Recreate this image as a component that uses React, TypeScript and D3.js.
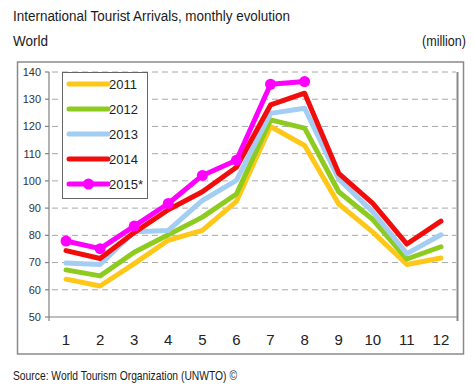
import React from "react";
import * as d3 from "d3";

const months = ["1", "2", "3", "4", "5", "6", "7", "8", "9", "10", "11", "12"];
const yTicks = [50, 60, 70, 80, 90, 100, 110, 120, 130, 140];

const seriesNames = ["2011", "2012", "2013", "2014", "2015*"];
const seriesColors = ["#FFC819", "#8DCB1E", "#A3CDF2", "#F20D0D", "#FF00FF"];

const v2011 = [63.9, 61.4, 69.6, 78.2, 81.8, 92.5, 120.0, 113.0, 91.5, 81.2, 69.3, 71.7];
const v2012 = [67.3, 65.1, 73.8, 80.2, 86.7, 95.2, 122.4, 119.4, 96.0, 85.8, 71.3, 75.8];
const v2013 = [69.8, 69.3, 81.3, 81.8, 92.8, 100.2, 124.8, 126.7, 100.7, 88.6, 73.3, 80.2];
const v2014 = [74.4, 71.5, 81.0, 89.4, 96.0, 105.0, 127.9, 132.2, 102.8, 91.7, 76.8, 85.2];
const v2015 = [77.9, 75.1, 83.4, 91.7, 102.0, 107.6, 135.5, 136.5];

const seriesValues = [v2011, v2012, v2013, v2014, v2015];

const W = 474;
const H = 392;
const plotLeft = 49;
const plotRight = 458;
const plotTop = 72;
const plotBottom = 317;

const font = "'Liberation Sans Narrow', 'Liberation Sans', Arial, sans-serif";

export default function App() {
  const x = d3.scaleBand<string>().domain(months).range([plotLeft, plotRight]).padding(0);
  const y = d3.scaleLinear().domain([50, 140]).range([plotBottom, plotTop]);
  const cx = (i: number) => (x(months[i]) as number) + x.bandwidth() / 2;

  const line = d3
    .line<number>()
    .x((_, i) => cx(i))
    .y((d) => y(d));

  const legendX = 62;
  const legendY = 72;
  const legendRow = 25;

  return (
    <div style={{ position: "fixed", left: 0, top: 0 }}>
      <svg width={W} height={H} style={{ display: "block", background: "#fff" }} fontFamily={font}>
        {/* titles */}
        <text x={13} y={21} fontSize={14} fill="#1a1a1a" textLength={277} lengthAdjust="spacingAndGlyphs">
          International Tourist Arrivals, monthly evolution
        </text>
        <text x={13} y={46} fontSize={14} fill="#1a1a1a" textLength={35} lengthAdjust="spacingAndGlyphs">
          World
        </text>
        <text x={422} y={46} fontSize={14} fill="#1a1a1a" textLength={44} lengthAdjust="spacingAndGlyphs">
          (million)
        </text>

        {/* outer frame */}
        <rect x={17.5} y={62} width={446} height={292} fill="none" stroke="#8a8a8a" strokeWidth={1.5} />

        {/* gridlines */}
        {yTicks.slice(1).map((t) => (
          <line
            key={"g" + t}
            x1={plotLeft + 3}
            x2={plotRight - 2}
            y1={y(t)}
            y2={y(t)}
            stroke="#a8a8a8"
            strokeWidth={1}
            strokeDasharray="6 4"
          />
        ))}

        {/* right plot border */}
        <line x1={457.5} x2={457.5} y1={plotTop} y2={plotBottom + 4} stroke="#8a8a8a" strokeWidth={2} />

        {/* y axis */}
        <line x1={plotLeft} x2={plotLeft} y1={plotTop} y2={plotBottom + 4} stroke="#808080" strokeWidth={1.2} />
        {yTicks.map((t) => (
          <g key={"y" + t}>
            <line x1={plotLeft - 4} x2={plotLeft} y1={y(t)} y2={y(t)} stroke="#808080" strokeWidth={1.2} />
            <text x={plotLeft - 8} y={y(t)} dy="0.35em" fontSize={11} textAnchor="end" fill="#333">
              {t}
            </text>
          </g>
        ))}

        {/* x axis */}
        <line x1={plotLeft} x2={plotRight} y1={plotBottom} y2={plotBottom} stroke="#808080" strokeWidth={1.2} />
        {months.map((m, i) => (
          <text key={"x" + m} x={cx(i)} y={345} fontSize={15} textAnchor="middle" fill="#222">
            {m}
          </text>
        ))}

        {/* series */}
        {seriesValues.map((vals, s) => (
          <path
            key={"s" + s}
            d={line(vals) || ""}
            fill="none"
            stroke={seriesColors[s]}
            strokeWidth={5}
            strokeLinejoin="round"
            strokeLinecap="round"
          />
        ))}
        {v2015.map((v, i) => (
          <circle key={"m" + i} cx={cx(i)} cy={y(v)} r={5.5} fill={seriesColors[4]} />
        ))}

        {/* legend */}
        <rect x={legendX + 0.5} y={legendY + 0.5} width={85} height={126} fill="#fff" stroke="#666" strokeWidth={1} />
        {seriesNames.map((name, s) => {
          const ly = legendY + 12 + s * legendRow;
          return (
            <g key={"l" + s}>
              <line
                x1={legendX + 7}
                x2={legendX + 46}
                y1={ly}
                y2={ly}
                stroke={seriesColors[s]}
                strokeWidth={5}
                strokeLinecap="round"
              />
              {s === 4 && <circle cx={legendX + 26.5} cy={ly} r={5.5} fill={seriesColors[4]} />}
              <text x={legendX + 47} y={ly + 5} fontSize={13} fill="#222">
                {name}
              </text>
            </g>
          );
        })}

        {/* source */}
        <text x={13} y={380} fontSize={13.5} fill="#1a1a1a" textLength={224} lengthAdjust="spacingAndGlyphs">
          Source: World Tourism Organization (UNWTO) ©
        </text>
      </svg>
    </div>
  );
}
